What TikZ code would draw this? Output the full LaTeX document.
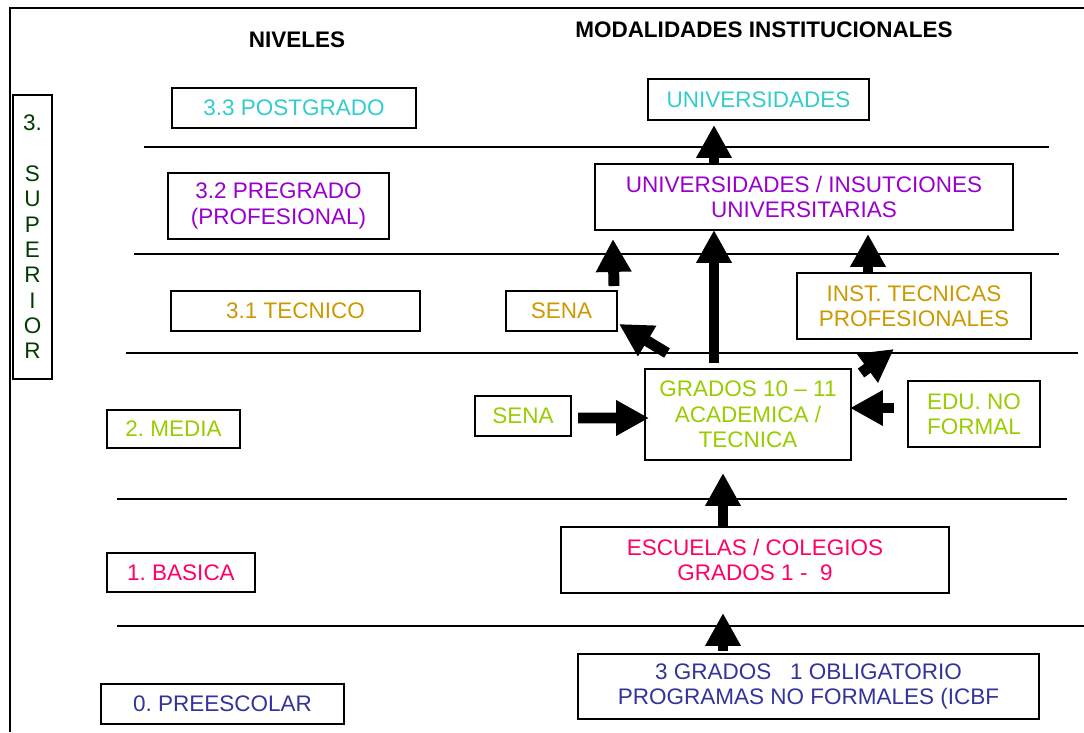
\documentclass[tikz,border=0pt]{standalone}
\usepackage{fontspec}
\setmainfont{Liberation Sans}
\usetikzlibrary{arrows.meta,calc}

\definecolor{cian}{RGB}{51,204,204}
\definecolor{morado}{RGB}{153,0,204}
\definecolor{oro}{RGB}{204,153,0}
\definecolor{lima}{RGB}{153,204,0}
\definecolor{rosa}{RGB}{255,0,102}
\definecolor{azul}{RGB}{51,51,153}
\definecolor{verdeosc}{RGB}{0,60,0}

\begin{document}
\frenchspacing
\begin{tikzpicture}[x=0.025cm, y=-0.025cm, font=\fontsize{16}{18}\selectfont]

\tikzstyle{caja} = [rectangle, draw=black, line width=1.4pt, inner sep=0pt, align=center]

\tikzstyle{nivel} = [line width=1.3pt]

\tikzstyle{flecha} = [line width=7.8pt, -{Triangle[width=23.8pt,length=23.4pt]}]

    \useasboundingbox (0,0) rectangle (1084,732);
    \draw [line width=2.1pt] (10,732) -- (10,8) -- (1084,8);

    % titulos
    \node [font=\bfseries\fontsize{16}{18}\selectfont] (niveles) at (297,40) {NIVELES};
    \node [font=\bfseries\fontsize{16}{18}\selectfont] (modalidades) at (764,30) {MODALIDADES INSTITUCIONALES};

    % lineas entre niveles
    \draw [nivel] (144,147) -- (1049,147);
    \draw [nivel] (134,254) -- (1059,254);
    \draw [nivel] (126,353) -- (1078,353);
    \draw [nivel] (117,499) -- (1067,499);
    \draw [nivel] (117,626) -- (1084,626);

    % niveles
    \node [caja, minimum width=0.975cm, minimum height=7.1cm, text=verdeosc] (sup) at (32.5,237) {3.\\[18pt]S\\U\\P\\E\\R\\I\\O\\R};
    \node [caja, minimum width=6.1cm, minimum height=1cm, text=cian] (post) at (294,108) {3.3 POSTGRADO};
    \node [caja, minimum width=5.525cm, minimum height=1.65cm, text=morado] (pre) at (278.5,206) {3.2 PREGRADO\\(PROFESIONAL)};
    \node [caja, minimum width=6.225cm, minimum height=1cm, text=oro] (tec) at (295.5,311) {3.1 TECNICO};
    \node [caja, minimum width=3.325cm, minimum height=0.95cm, text=lima] (media) at (173.5,429) {2. MEDIA};
    \node [caja, minimum width=3.7cm, minimum height=0.975cm, text=rosa] (basica) at (181,572.5) {1. BASICA};
    \node [caja, minimum width=6.075cm, minimum height=1cm, text=azul] (preesc) at (222.5,704) {0. PREESCOLAR};

    % modalidades
    \node [caja, minimum width=5.525cm, minimum height=1.025cm, text=cian] (univ) at (758.5,99.5) {UNIVERSIDADES};
    \node [caja, minimum width=10.45cm, minimum height=1.65cm, text=morado] (univinst) at (804,197) {UNIVERSIDADES / INSUTCIONES\\UNIVERSITARIAS};
    \node [caja, minimum width=2.775cm, minimum height=1cm, text=oro] (senaA) at (561.5,311) {SENA};
    \node [caja, minimum width=5.85cm, minimum height=1.65cm, text=oro] (inst) at (914,306) {INST. TECNICAS\\PROFESIONALES};
    \node [caja, minimum width=5.15cm, minimum height=2.275cm, text=lima] (grados) at (748,414.5) {GRADOS 10 -- 11\\ACADEMICA /\\TECNICA};
    \node [caja, minimum width=2.4cm, minimum height=1cm, text=lima] (senaB) at (523,416) {SENA};
    \node [caja, minimum width=3.3cm, minimum height=1.65cm, text=lima] (edu) at (974,414) {EDU. NO\\FORMAL};
    \node [caja, minimum width=9.7cm, minimum height=1.65cm, text=rosa] (escuelas) at (755,560) {ESCUELAS / COLEGIOS\\GRADOS 1 -\ \ 9};
    \node [caja, minimum width=11.525cm, minimum height=1.625cm, text=azul] (prees3) at (808.5,686.5) {3 GRADOS\ \ \ 1 OBLIGATORIO\\PROGRAMAS NO FORMALES (ICBF};

    % flechas
    \draw [flecha] ($(prees3.north)+(-85.5,-2)$) -- ($(escuelas.south)+(-32,19)$);
    \draw [flecha] ($(escuelas.north)+(-32,0)$) -- ($(grados.south)+(-25,12)$);
    \draw [flecha] ($(senaB.east)+(6,2)$) -- ($(grados.west)+(5,3.5)$);
    \draw [flecha] ($(edu.west)+(-13,-6)$) -- ($(grados.east)+(-2,-6.5)$);
    \draw [flecha] ($(grados.north)+(-34,-5)$) -- ($(univinst.south)+(-90,-1)$);
    \draw [flecha] ($(grados.north west)+(23,-15)$) -- ($(senaA.south east)+(1,-8)$);
    \draw [flecha] ($(grados.north east)+(9,5)$) -- ($(inst.south west)+(98,9)$);
    \draw [flecha] ($(senaA.north)+(52.5,-4)$) -- ($(univinst.south west)+(19,8)$);
    \draw [flecha] ($(inst.north)+(-46,0)$) -- ($(univinst.south)+(64,3)$);
    \draw [flecha] ($(univinst.north)+(-90,0)$) -- ($(univ.south)+(-44.5,4)$);

\end{tikzpicture}
\end{document}
